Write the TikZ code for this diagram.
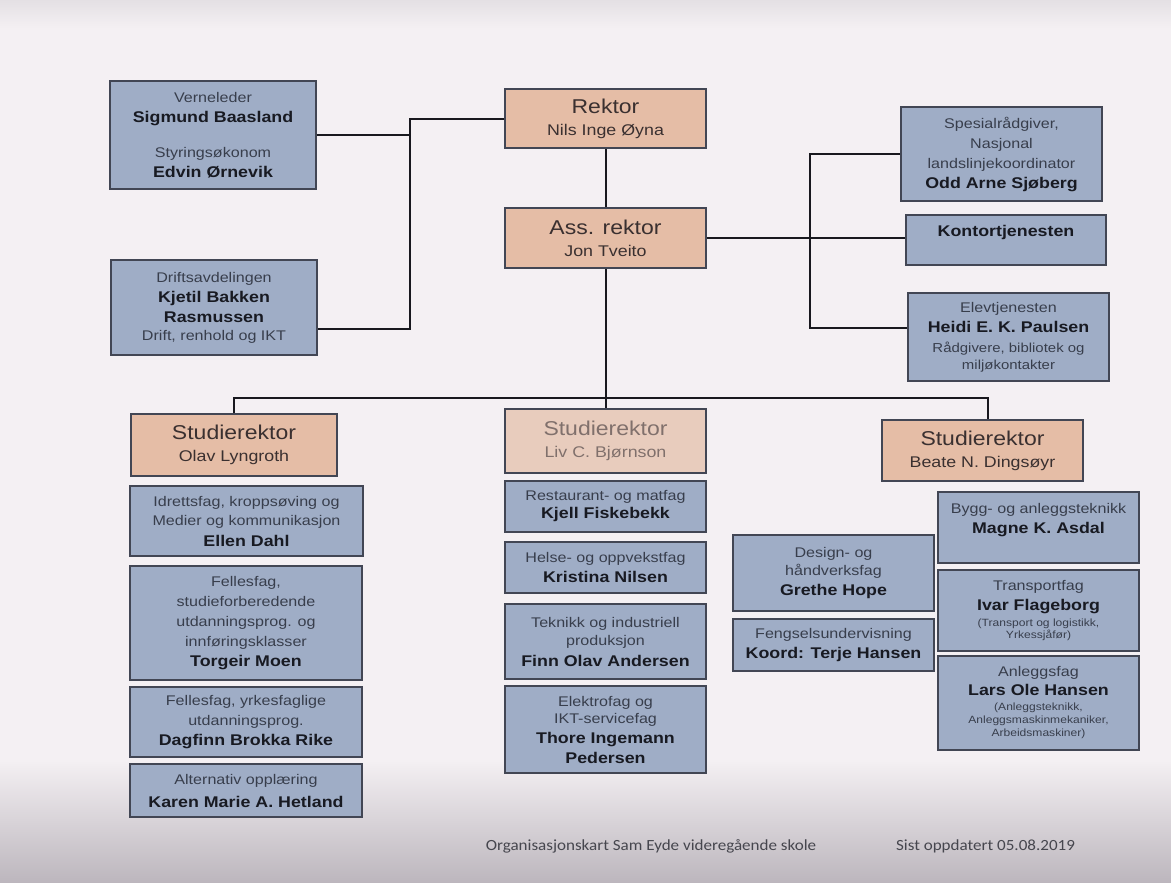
\documentclass[tikz,border=0pt]{standalone}
\usepackage{fontspec}
\setmainfont{Liberation Sans}[FakeStretch=1.15]
\newfontfamily\footfont{Carlito}[FakeStretch=1.1]
\usetikzlibrary{calc}

\definecolor{paper}{RGB}{244,240,243}
\definecolor{papertop}{RGB}{228,224,228}
\definecolor{paperdark}{RGB}{188,182,189}
\definecolor{bluefill}{RGB}{159,173,198}
\definecolor{orangefill}{RGB}{229,189,166}
\definecolor{orangepale}{RGB}{232,204,189}
\definecolor{boxline}{RGB}{66,70,84}
\definecolor{subtext}{RGB}{56,62,76}
\definecolor{nametext}{RGB}{24,26,34}
\definecolor{headtext}{RGB}{58,48,48}
\definecolor{fadetext}{RGB}{128,112,108}
\definecolor{linkcol}{RGB}{24,24,30}
\definecolor{foottext}{RGB}{70,70,78}

% bold person name inside a box
\newcommand\pname[1]{{\color{nametext}\fontsize{15.5}{20}\selectfont\bfseries #1}}
% small bracketed details
\newcommand\psmall[1]{{\fontsize{10.5}{12}\selectfont #1}}
% large heading in the orange boxes
\newcommand\phead[1]{{\fontsize{20}{22}\selectfont #1}}

\tikzset{
  bluebox/.style={draw=boxline, line width=1.6pt, fill=bluefill, align=center,
    text=subtext, font=\fontsize{14}{20}\selectfont, inner sep=2pt},
  headbox/.style={draw=boxline, line width=1.6pt, fill=orangefill, align=center,
    text=headtext, font=\fontsize{15.5}{22}\selectfont, inner sep=2pt},
  link/.style={draw=linkcol, line width=2pt},
}

\begin{document}
\begin{tikzpicture}[x=1pt, y=-1pt]
\useasboundingbox (0,0) rectangle (1171,883);
% paper
\fill[paper] (0,0) rectangle (1171,883);
\shade[top color=papertop, bottom color=paper] (0,0) rectangle (1171,28);
\shade[top color=paper, bottom color=paperdark] (0,760) rectangle (1171,883);

% leadership
\node[headbox, minimum width=201, minimum height=59] (rektor) at (605.5,118.5)
  {\phead{Rektor}\\ Nils Inge Øyna};
\node[headbox, minimum width=201, minimum height=60] (ass) at (605.5,238)
  {\phead{Ass. rektor}\\ Jon Tveito};

% staff functions, left
\node[bluebox, minimum width=206, minimum height=108] (vern) at (213,135)
  {Verneleder\\ \pname{Sigmund Baasland}\\[15pt] Styringsøkonom\\ \pname{Edvin Ørnevik}};
\node[bluebox, minimum width=206, minimum height=95] (drift) at (214,307.5)
  {Driftsavdelingen\\ \pname{Kjetil Bakken}\\ \pname{Rasmussen}\\[-2pt] Drift, renhold og IKT};

% staff functions, right
\node[bluebox, minimum width=201, minimum height=94] (spes) at (1001.5,154)
  {Spesialrådgiver,\\ Nasjonal\\ landslinjekoordinator\\ \pname{Odd Arne Sjøberg}};
\node[bluebox, minimum width=200, minimum height=50, text depth=18pt] (kontor) at (1006,240)
  {\pname{Kontortjenesten}};
\node[bluebox, minimum width=201, minimum height=88] (elev) at (1008.5,337)
  {Elevtjenesten\\ \pname{Heidi E. K. Paulsen}\\ {\fontsize{13}{17}\selectfont Rådgivere, bibliotek og}\\[-3pt] {\fontsize{13}{17}\selectfont miljøkontakter}};

% study leaders
\node[headbox, minimum width=206, minimum height=62] (sr1) at (234,445)
  {\phead{Studierektor}\\ Olav Lyngroth};
\node[headbox, fill=orangepale, text=fadetext, minimum width=201, minimum height=64] (sr2) at (605.5,441)
  {\phead{Studierektor}\\ Liv C. Bjørnson};
\node[headbox, minimum width=201, minimum height=61] (sr3) at (982.5,450.5)
  {\phead{Studierektor}\\ Beate N. Dingsøyr};

% column 1
\node[bluebox, minimum width=233, minimum height=70] (idr) at (246.5,521)
  {Idrettsfag, kroppsøving og\\ Medier og kommunikasjon\\ \pname{Ellen Dahl}};
\node[bluebox, minimum width=232, minimum height=114] (fel1) at (246,623)
  {Fellesfag,\\ studieforberedende\\ utdanningsprog. og\\ innføringsklasser\\ \pname{Torgeir Moen}};
\node[bluebox, minimum width=232, minimum height=70] (fel2) at (246,722)
  {Fellesfag, yrkesfaglige\\ utdanningsprog.\\ \pname{Dagfinn Brokka Rike}};
\node[bluebox, minimum width=232, minimum height=53] (alt) at (246,790.5)
  {Alternativ opplæring\\[3pt] \pname{Karen Marie A. Hetland}};

% column 2
\node[bluebox, minimum width=201, minimum height=51] (rest) at (605.5,506.5)
  {Restaurant- og matfag\\[-2pt] \pname{Kjell Fiskebekk}};
\node[bluebox, minimum width=201, minimum height=51] (helse) at (605.5,567.5)
  {Helse- og oppvekstfag\\ \pname{Kristina Nilsen}};
\node[bluebox, minimum width=201, minimum height=75] (tekn) at (605.5,641.5)
  {Teknikk og industriell\\[-2pt] produksjon\\[1pt] \pname{Finn Olav Andersen}};
\node[bluebox, minimum width=201, minimum height=87] (elek) at (605.5,729.5)
  {Elektrofag og\\[-3pt] IKT-servicefag\\ \pname{Thore Ingemann}\\ \pname{Pedersen}};

% column 3
\node[bluebox, minimum width=201, minimum height=76] (design) at (833.5,573)
  {Design- og\\[-2pt] håndverksfag\\ \pname{Grethe Hope}};
\node[bluebox, minimum width=201, minimum height=52] (feng) at (833.5,645)
  {Fengselsundervisning\\ \pname{Koord: Terje Hansen}};
\node[bluebox, minimum width=201, minimum height=71, text depth=18pt] (bygg) at (1038.5,527.5)
  {Bygg- og anleggsteknikk\\ \pname{Magne K. Asdal}};
\node[bluebox, minimum width=201, minimum height=81] (trans) at (1038.5,610.5)
  {Transportfag\\ \pname{Ivar Flageborg}\\[-4pt] \psmall{(Transport og logistikk,}\\[-8pt] \psmall{Yrkessjåfør)}};
\node[bluebox, minimum width=201, minimum height=94] (anl) at (1038.5,703)
  {Anleggsfag\\[-1pt] \pname{Lars Ole Hansen}\\[-5pt] \psmall{(Anleggsteknikk,}\\[-7pt] \psmall{Anleggsmaskinmekaniker,}\\[-7pt] \psmall{Arbeidsmaskiner)}};

% connectors, left staff
\coordinate (bl) at (410,0);
\coordinate (dj) at ([yshift=-21pt]drift.east);
\draw[link] (vern.east) -- (vern.east -| bl);
\draw[link] (rektor.west) -| (bl |- dj) -- (dj);
\draw[link] (rektor.south) -- (ass.north);

% connectors, right staff
\coordinate (br) at (810,0);
\coordinate (ej) at ([yshift=9pt]elev.west);
\draw[link] (spes.west) -| (br |- ej) -- (ej);
\draw[link] (ass.east) -- (ass.east -| kontor.west);

% connectors to the study leaders
\coordinate (hb) at (605.5,398);
\coordinate (sr3top) at ([xshift=5.5pt]sr3.north);
\draw[link] (ass.south) -- (hb);
\draw[link] (sr1.north) |- (hb) -| (sr3top);
\draw[link] (hb) -- (sr2.north);

% footer
\node[font=\footfont\fontsize{15.5}{18}\selectfont, text=foottext] (foot1) at (651,846)
  {Organisasjonskart Sam Eyde videregående skole};
\node[font=\footfont\fontsize{15.5}{18}\selectfont, text=foottext] (foot2) at (985.5,846)
  {Sist oppdatert 05.08.2019};
\end{tikzpicture}
\end{document}
